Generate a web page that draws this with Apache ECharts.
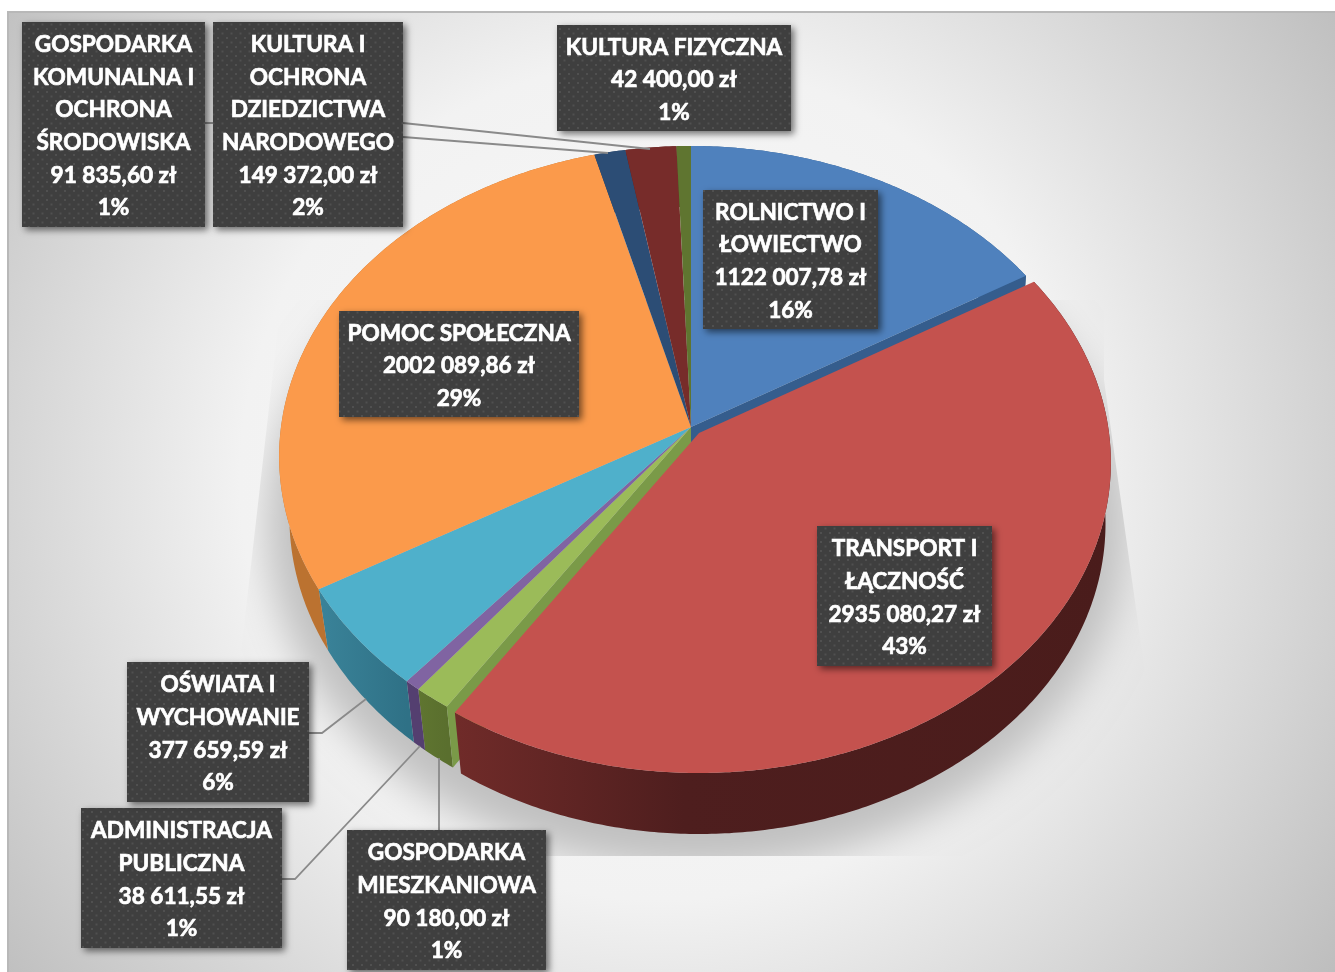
<!DOCTYPE html>
<html><head><meta charset="utf-8">
<style>html,body{margin:0;padding:0;background:#fff}#c{width:1335px;height:972px}</style>
<script src="https://cdn.jsdelivr.net/npm/echarts@6/dist/echarts.min.js"></script>
</head><body><div id="c"></div>
<script>
// ---- data ----
const categories = ['ROLNICTWO I\nŁOWIECTWO','TRANSPORT I\nŁĄCZNOŚĆ','GOSPODARKA\nMIESZKANIOWA','ADMINISTRACJA\nPUBLICZNA','OŚWIATA I\nWYCHOWANIE','POMOC SPOŁECZNA','GOSPODARKA\nKOMUNALNA I\nOCHRONA\nŚRODOWISKA','KULTURA I\nOCHRONA\nDZIEDZICTWA\nNARODOWEGO','KULTURA FIZYCZNA'];
const values = [1122007.78,2935080.27,90180.00,38611.55,377659.59,2002089.86,91835.60,149372.00,42400.00];
const valueLabels = ['1122 007,78 zł','2935 080,27 zł','90 180,00 zł','38 611,55 zł','377 659,59 zł','2002 089,86 zł','91 835,60 zł','149 372,00 zł','42 400,00 zł'];
const explodedFlags = [0,1,0,0,0,0,0,0,0];
// ---- styling / layout ----
const topColors = ['#4f81bd','#c4524e','#9bbb59','#8064a2','#4fb0cb','#fb9a4b','#2c4d75','#772c2a','#5f7530'];
const wallColors = [['#36608f','#36608f'],['#702b29','#4a1c1b'],['#5f7530','#5a6f2e'],['#543f70','#543f70'],['#3a8399','#2f7186'],['#bb7230','#bb7230'],['#1e3a5c','#1e3a5c'],['#5a2120','#5a2120'],['#475823','#475823']];
const radialColors = {0:'#355d8d',2:'#7a9a48'};
const boxes = [[703,190,175,139],[817,526,175,140],[347,830,199,140],[81,808,201,140],[127,662,182,140],[339,311,240,106],[22,22,183,205],[213,22,190,205],[557,25,234,106]];
const leaders = [[[205,123],[403,123],[650,149]],[[403,137],[608,153]],[[309,733],[322,733],[366,699]],[[282,879],[295,879],[420,746]],[[439,830],[439,758]]];
const G = {cx:691,cy:427,A:410,B:307.7,k:0.095,sL:0.975,sR:0.987,D:61,ox:8,oy:6};
const total = values.reduce((a,b)=>a+b,0);
const starts = []; { let c=0; values.forEach(v=>{starts.push(c/total*Math.PI*2); c+=v;}); }
function proj(a,r,bottom,off){
  const u=r*Math.sin(a), v=-r*Math.cos(a), d=1-G.k*v;
  let X=G.A*u/d, Y=G.B*v/d;
  if(bottom){X*=(X<0?G.sL:G.sR);Y=Y+G.D;}
  return [G.cx+X+(off?G.ox:0), G.cy+Y+(off?G.oy:0)];
}
function arc(i,bottom){
  const a0=starts[i], a1=a0+values[i]/total*Math.PI*2, n=Math.max(4,Math.ceil((a1-a0)/0.01)), o=explodedFlags[i], pts=[];
  for(let j=0;j<=n;j++) pts.push(proj(a0+(a1-a0)*j/n,1,bottom,o));
  return pts;
}
const bgFill = new echarts.graphic.RadialGradient(660,480,840,[{offset:0,color:'#fafafa'},{offset:0.5,color:'#f2f2f2'},{offset:1,color:'#bdbdbd'}],true);
// dotted texture of the label boxes
const tile=document.createElement('canvas'); tile.width=9; tile.height=9;
{const t=tile.getContext('2d'); t.fillStyle='#3f3f3f'; t.fillRect(0,0,9,9); t.fillStyle='#505050'; t.fillRect(1,1,2,2); t.fillRect(5.5,5.5,2,2);}
function wallItem(i){
  const top=arc(i,false), bot=arc(i,true);
  const xs=top.map(p=>p[0]);
  const stops = i===1 ? [{offset:0,color:wallColors[i][0]},{offset:0.35,color:'#4e1e1e'},{offset:1,color:wallColors[i][1]}] : [{offset:0,color:wallColors[i][0]},{offset:1,color:wallColors[i][1]}];
  const grad=new echarts.graphic.LinearGradient(Math.min(...xs),0,Math.max(...xs),0,stops,true);
  return [{type:'polygon',shape:{points:top.concat(bot.slice().reverse())},style:{fill:grad}}];
}
function radialItem(i){
  const kids=[]; if(radialColors[i]===undefined) return kids;
  const pa = i===0 ? starts[0]+values[0]/total*Math.PI*2 : starts[i];
  kids.push({type:'polygon',shape:{points:[proj(pa,0,false,0),proj(pa,1,false,0),proj(pa,1,true,0),proj(pa,0,true,0)]},style:{fill:radialColors[i]}});
  return kids;
}
const seriesData = values.map((v,i)=>({name:categories[i].replace(/\n/g,' '),value:[v,i]}));
const base = {type:'custom',coordinateSystem:'none',silent:true,animation:false,data:seriesData,clip:false};
const option = {
  animation:false,
  graphic:[
    {type:'rect',z:-10,silent:true,shape:{x:8,y:12,width:1327,height:960},style:{fill:bgFill}},
    {type:'ellipse',z:-9,silent:true,shape:{cx:697-3000,cy:525,rx:430,ry:345},style:{fill:'#999',shadowBlur:40,shadowColor:'#c0c0c0',shadowOffsetX:3000}},
    {type:'polygon',z:-8,silent:true,shape:{points:[[8,12],[1335,12],[1335,680],[1146,680],[1118,480],[1104,380],[1104,300],[279,300],[279,320],[247,600],[238,680],[8,680]]},style:{fill:bgFill}},
    {type:'rect',z:-8,silent:true,shape:{x:8,y:856,width:1327,height:116},style:{fill:bgFill}},
    {type:'polyline',z:-7,silent:true,shape:{points:[[8,972],[8,12],[1335,12]]},style:{stroke:'#b8b8b8',lineWidth:2,fill:null}}
  ],
  series:[
    Object.assign({},base,{name:'walls',z:1,renderItem(p){ return explodedFlags[p.dataIndex]?null:{type:'group',children:wallItem(p.dataIndex).concat(radialItem(p.dataIndex))}; }}),
    Object.assign({},base,{name:'wallsExploded',z:2,renderItem(p){ return explodedFlags[p.dataIndex]?{type:'group',children:wallItem(p.dataIndex)}:null; }}),
    Object.assign({},base,{name:'tops',z:3,renderItem(p){
      const i=p.dataIndex, a=arc(i,false), c=proj(0,0,false,explodedFlags[i]);
      return {type:'polygon',shape:{points:[c].concat(a)},style:{fill:topColors[i]}};
    }}),
    {type:'custom',coordinateSystem:'none',silent:true,animation:false,z:4,name:'leaders',data:leaders.map((l,i)=>[i]),renderItem(p){
      return {type:'polyline',shape:{points:leaders[p.dataIndex]},style:{stroke:'#8a8a8a',lineWidth:1.8,fill:null}};
    }},
    Object.assign({},base,{name:'labels',z:5,renderItem(p){
      const i=p.dataIndex,b=boxes[i];
      const txt=categories[i]+'\n'+valueLabels[i]+'\n'+Math.round(values[i]/total*100)+'%';
      return {type:'group',children:[
        {type:'rect',shape:{x:b[0],y:b[1],width:b[2],height:b[3]},style:{fill:{image:tile,repeat:'repeat'},shadowBlur:7,shadowOffsetX:3,shadowOffsetY:3,shadowColor:'rgba(0,0,0,0.55)'}},
        {type:'text',z2:2,style:{x:b[0]+b[2]/2,y:b[1]+b[3]/2+2,text:txt,align:'center',verticalAlign:'middle',fill:'#fff',stroke:'#fff',lineWidth:0.7,fontFamily:'Lato',fontWeight:'bold',fontSize:22.6,lineHeight:32.6}}
      ]};
    }})
  ]
};
const chart=echarts.init(document.getElementById('c'),null,{renderer:'canvas',width:1335,height:972});
chart.setOption(option);
</script></body></html>
